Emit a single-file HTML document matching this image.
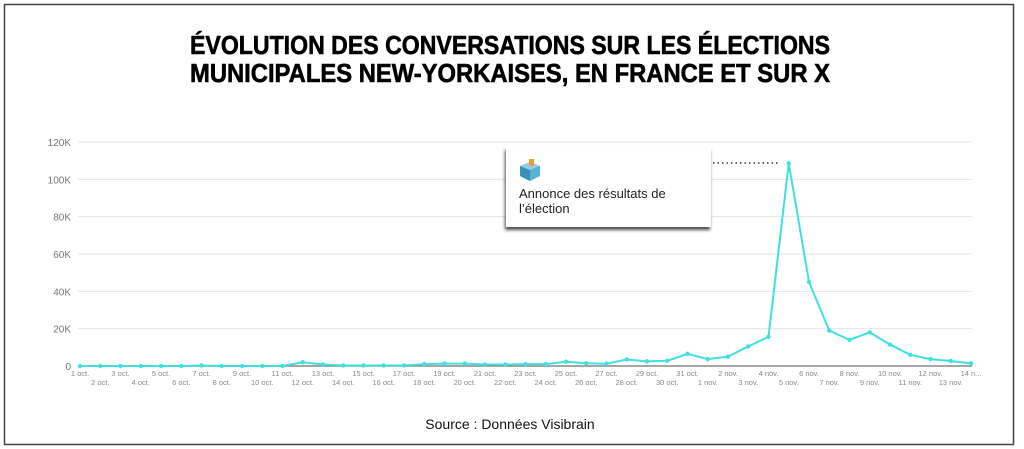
<!DOCTYPE html>
<html><head><meta charset="utf-8"><style>
html,body{margin:0;padding:0;background:#fff;}
svg{display:block;font-family:"Liberation Sans",sans-serif;}
</style></head><body>
<svg id="s" width="1024" height="449" viewBox="0 0 1024 449">
<rect x="0" y="0" width="1024" height="449" fill="#fff"/>
<rect x="4.5" y="4.5" width="1009" height="440" fill="none" stroke="#444" stroke-width="1.5"/>
<text x="510" y="54" text-anchor="middle" font-size="26" font-weight="bold" fill="#000" stroke="#000" stroke-width="0.6" textLength="640" lengthAdjust="spacingAndGlyphs">ÉVOLUTION DES CONVERSATIONS SUR LES ÉLECTIONS</text>
<text x="510" y="82" text-anchor="middle" font-size="26" font-weight="bold" fill="#000" stroke="#000" stroke-width="0.6" textLength="640" lengthAdjust="spacingAndGlyphs">MUNICIPALES NEW-YORKAISES, EN FRANCE ET SUR X</text>
<g id="grid"></g>
<g id="xl" font-size="7.5" fill="#888"></g>
<polyline id="ln" fill="none" stroke="#3fe0e0" stroke-width="2" stroke-linejoin="round"/>
<g id="dots" fill="#3fe0e0"></g>
<line x1="713" y1="163" x2="780" y2="163" stroke="#333" stroke-width="1.5" stroke-dasharray="1.5,3"/>
<defs><filter id="sh" x="-10%" y="-10%" width="130%" height="140%"><feDropShadow dx="-1" dy="3" stdDeviation="1.5" flood-color="#000" flood-opacity="0.7"/></filter></defs>
<rect x="506" y="147" width="205" height="80" fill="#fff" filter="url(#sh)"/>
<g transform="translate(520,160)">
<polygon points="0,6 10,2 20,6 20,16 10,21 0,16" fill="#5ab1d6"/>
<polygon points="0,6 10,10 10,21 0,16" fill="#3d8fb8"/>
<polygon points="0,6 10,2 20,6 10,10" fill="#8fd0ea"/>
<rect x="9" y="-1" width="5" height="7" fill="#f39a3a"/>
</g>
<text x="519" y="198" font-size="13" fill="#222">Annonce des résultats de</text>
<text x="519" y="213" font-size="13" fill="#222">l’élection</text>
<text x="510" y="429" text-anchor="middle" font-size="14" fill="#111">Source : Données Visibrain</text>
</svg>
<script>
var NS="http://www.w3.org/2000/svg",y0=366,k=224/120,x0=80,dx=891/44;
function el(t,a,p,txt){var e=document.createElementNS(NS,t);for(var i in a)e.setAttribute(i,a[i]);if(txt)e.textContent=txt;document.getElementById(p).appendChild(e);}
for(var v=0;v<=120;v+=20){var y=y0-v*k;el("line",{x1:78,x2:972,y1:y,y2:y,stroke:"#e4e4e8","stroke-width":1},"grid");
el("text",{x:71,y:y+4,"text-anchor":"end","font-size":10,fill:"#777"},"grid",v?v+"K":"0");}
el("line",{x1:78,x2:972,y1:y0,y2:y0,stroke:"#888","stroke-width":1.5},"grid");
var d=[0,0,0,0,0,0,0.3,0,0,0,0,2,0.8,0.3,0.3,0.3,0.3,1,1.3,1.3,0.8,0.8,1,1,2.3,1.5,1.2,3.5,2.5,2.8,6.5,3.7,5,10.5,15.6,108.6,45,19,14,18,11.5,6,3.7,2.7,1.4];
var pts=[];
for(var i=0;i<45;i++){var x=x0+i*dx,y=y0-d[i]*k;pts.push(x+","+y);el("circle",{cx:x,cy:y,r:2.2},"dots");
var lab,day;if(i<31){day=i+1;lab=day+" oct.";}else{day=i-30;lab=day+" nov.";}
if(i==44)lab="14 n...";
el("text",{x:x,y:i%2?385:376,"text-anchor":"middle"},"xl",lab);}
document.getElementById("ln").setAttribute("points",pts.join(" "));
</script>
</body></html>
